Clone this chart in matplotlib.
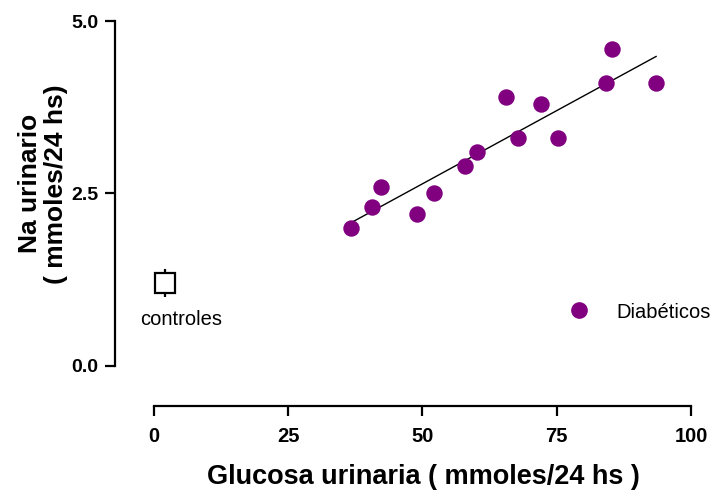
import matplotlib.pyplot as plt
from matplotlib.lines import Line2D
import numpy as np

plt.rcParams["font.family"] = "sans-serif"
plt.rcParams["font.sans-serif"] = ["Liberation Sans", "DejaVu Sans"]

# diabeticos: glucosa urinaria vs Na urinario (mmoles/24 hs)
glucosa = [36.7, 40.6, 42.3, 48.9, 52.1, 57.9, 60.1, 65.6, 67.8, 72.1, 75.2, 84.2, 85.2, 93.5]
sodio = [2.0, 2.3, 2.6, 2.2, 2.5, 2.9, 3.1, 3.9, 3.3, 3.8, 3.3, 4.1, 4.6, 4.1]

# controles: media +- error
ctrl_glucosa = 2.0
ctrl_sodio = 1.2
ctrl_err = 0.2

xticks = [0, 25, 50, 75, 100]
yticks = [0, 2.5, 5.0]

purple = '#800080'

fig = plt.figure(figsize=(7.13, 4.95), dpi=100)
ax = fig.add_axes([115/713, 89/495, 576/713, 385/495])
ax.set_xlim(-7.26, 100)
ax.set_ylim(-0.58, 5)

ax.scatter(glucosa, sodio, s=140, color=purple, linewidths=0, zorder=3)

# recta de regresion
m, b = np.polyfit(glucosa, sodio, 1)
xs = np.array([min(glucosa), max(glucosa)])
ax.plot(xs, m*xs + b, color='black', lw=1.0, zorder=2)

ax.errorbar(ctrl_glucosa, ctrl_sodio, yerr=ctrl_err, fmt='s', ms=15, mfc='white',
            mec='black', mew=1.6, ecolor='black', elinewidth=1.6, capsize=0)
ax.text(5.0, 0.68, 'controles', ha='center', va='center', fontsize=14.5)

h = Line2D([], [], marker='o', ls='none', color=purple, ms=11)
ax.legend([h], ['Diabéticos'], loc='center left', bbox_to_anchor=(569/713, 1-312/495),
          bbox_transform=fig.transFigure, frameon=False, fontsize=14.5,
          handlelength=1, handletextpad=1.35, borderpad=0, borderaxespad=0)

for s in ['top', 'right']:
    ax.spines[s].set_visible(False)
ax.spines['left'].set_bounds(0, 5)
ax.spines['bottom'].set_bounds(0, 100)
for s in ['left', 'bottom']:
    ax.spines[s].set_linewidth(1.6)

ax.set_xticks(xticks)
ax.set_xticklabels([str(t) for t in xticks], fontsize=14.5, fontweight='bold')
ax.set_yticks(yticks)
ax.set_yticklabels(['%.1f' % t for t in yticks], fontsize=14, fontweight='bold')
ax.tick_params(width=1.6, length=7)
ax.tick_params(axis='y', pad=5)
ax.tick_params(axis='x', pad=8)

ax.set_xlabel('Glucosa urinaria ( mmoles/24 hs )', fontsize=19.5, fontweight='bold')
ax.xaxis.set_label_coords(0.535, -0.184)
ax.xaxis.label.set_va('center')
ax.set_ylabel('Na urinario\n( mmoles/24 hs)', fontsize=19, fontweight='bold', linespacing=1.15)
ax.yaxis.set_label_coords(-0.125, 0.577)
ax.yaxis.label.set_va('center')

fig.savefig('out.png', dpi=100)
